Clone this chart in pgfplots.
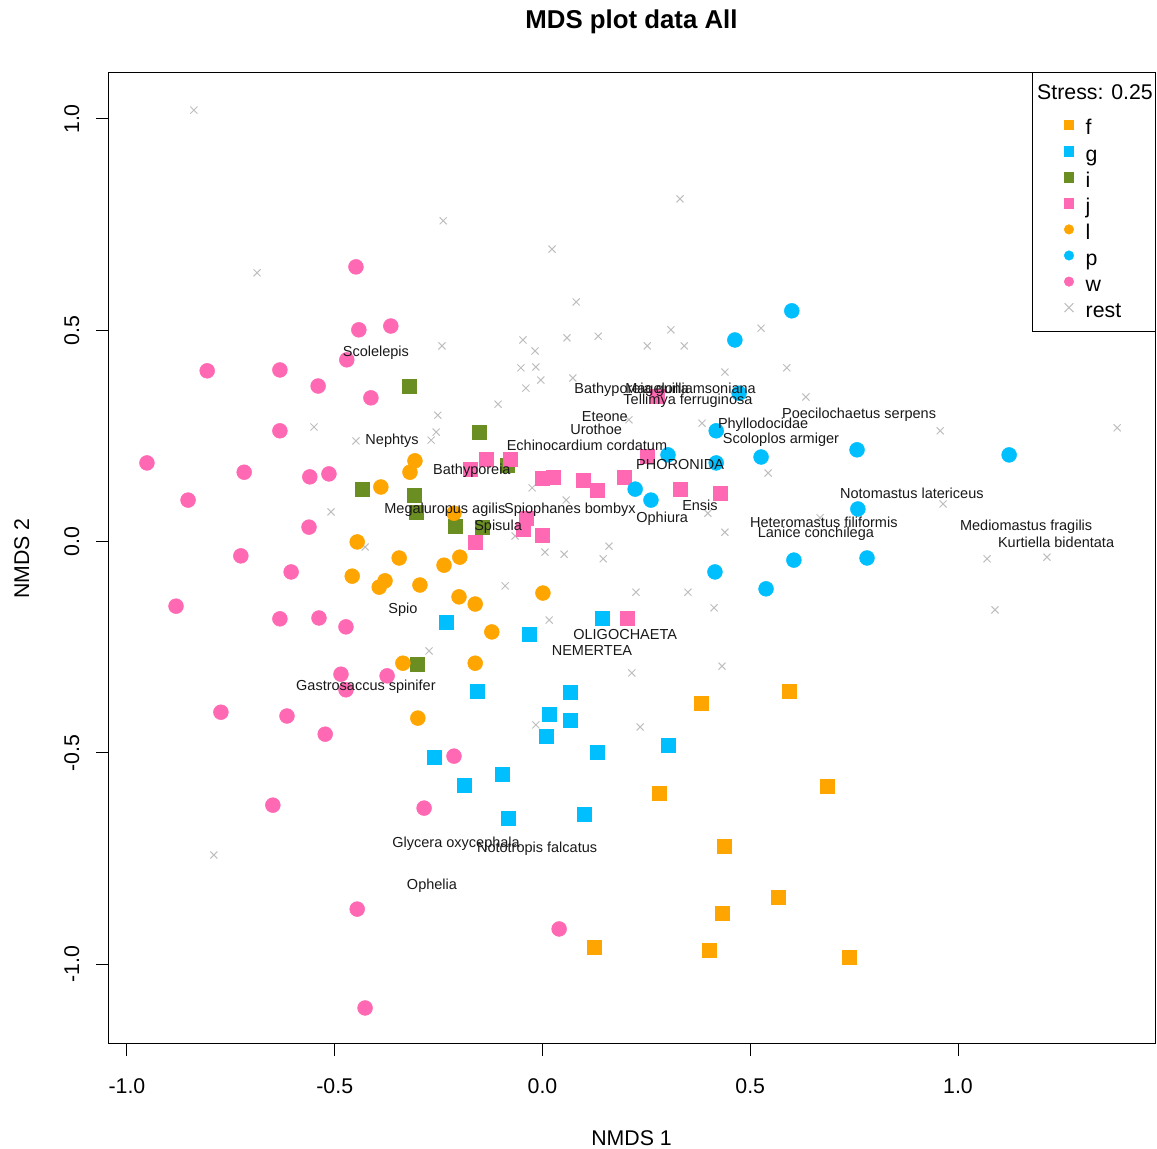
\documentclass[border=0pt]{standalone}
\usepackage{fontspec}
\setmainfont{Liberation Sans}
\usepackage{pgfplots}
\pgfplotsset{compat=1.18}

\definecolor{cF}{HTML}{FFA500}
\definecolor{cG}{HTML}{00BFFF}
\definecolor{cI}{HTML}{6B8E23}
\definecolor{cJ}{HTML}{FF69B4}
\definecolor{cRest}{HTML}{BEBEBE}

\newcommand\lblfont{\fontsize{14.5bp}{17bp}\selectfont}
\newcommand\axfont{\fontsize{21.3bp}{25bp}\selectfont}

\pgfplotsset{
  legimg/.style={legend image code/.code={\draw[##1] plot coordinates {(0bp,5bp)};}},
  sq/.style={only marks, forget plot, color=#1, mark=square*, mark size=7.05bp, mark options={solid, draw=#1, fill=#1, line width=0.5bp}},
  ci/.style={only marks, forget plot, color=#1, mark=*, mark size=7.45bp, mark options={solid, draw=#1, fill=#1, line width=0.5bp}},
  lsq/.style={only marks, color=#1, mark=square*, mark size=4.75bp, mark options={solid, draw=#1, fill=#1, line width=0.5bp}, legimg},
  lci/.style={only marks, color=#1, mark=*, mark size=4.75bp, mark options={solid, draw=#1, fill=#1, line width=0.5bp}, legimg},
}

\begin{document}
\begin{tikzpicture}
\path[use as bounding box] (0,0) rectangle (1157bp,1149bp);
\begin{axis}[
  at={(108bp,105bp)}, anchor=south west,
  scale only axis, width=1047bp, height=971bp,
  xmin=-1.0457, xmax=1.4741, ymin=-1.1893, ymax=1.1089,
  clip=false,
  axis line style={line width=1bp, black},
  xtick={-1,-0.5,0,0.5,1}, ytick={-1,-0.5,0,0.5,1},
  xticklabels={-1.0,-0.5,0.0,0.5,1.0},
  yticklabels={-1.0,-0.5,0.0,0.5,1.0},
  tick align=outside, xtick pos=left, ytick pos=left,
  major tick length=12bp,
  tick style={line width=1bp, black},
  ticklabel style={font=\axfont},
  xticklabel style={anchor=north, inner sep=0pt},
  yticklabel style={rotate=90, anchor=south, inner sep=0pt},
  xticklabel shift=22.5bp, yticklabel shift=16.5bp,
  legend cell align=left,
  legend style={at={(0.9133,0.9516)}, anchor=north west, draw=none, fill=none,
    inner sep=0pt, outer sep=0pt, row sep=6.1bp, column sep=12bp,
    font=\axfont, nodes={inner sep=0pt, text height=15bp, text depth=5bp}},
]
% species not in a group
\addplot[only marks, forget plot, mark=x, mark size=5bp, mark options={draw=cRest, line width=1bp}]
coordinates {
(-0.839,1.021) (-0.239,0.759) (-0.687,0.636) (-0.242,0.463) (0.023,0.692)
(0.331,0.811) (0.081,0.567) (-0.047,0.477) (-0.018,0.451) (0.059,0.482)
(0.134,0.486) (0.252,0.463) (0.309,0.501) (0.341,0.463) (0.526,0.505)
(-0.052,0.411) (-0.016,0.413) (-0.004,0.382) (-0.040,0.363) (0.073,0.387)
(0.439,0.401) (0.588,0.411) (-0.107,0.325) (0.634,0.342) (-0.252,0.299)
(-0.256,0.259) (-0.268,0.240) (-0.550,0.271) (-0.449,0.238) (-0.509,0.070)
(-0.427,-0.013) (-0.273,-0.259) (0.208,0.288) (0.384,0.280) (0.543,0.162)
(-0.025,0.127) (0.057,0.098) (0.398,0.067) (0.439,0.022) (-0.066,0.013)
(0.006,-0.025) (0.052,-0.030) (0.160,-0.011) (0.146,-0.041) (-0.090,-0.105)
(0.225,-0.120) (0.350,-0.120) (0.413,-0.157) (0.016,-0.186) (0.215,-0.311)
(0.432,-0.295) (0.957,0.262) (1.383,0.269) (0.964,0.089) (1.070,-0.041)
(1.214,-0.037) (1.089,-0.162) (0.668,0.056) (-0.791,-0.742) (-0.016,-0.434)
(0.235,-0.439)
};
% f
\addplot[sq=cF] coordinates {
(0.593,-0.354) (0.381,-0.382) (0.685,-0.579) (0.280,-0.595) (0.437,-0.721)
(0.432,-0.879) (0.567,-0.841) (0.124,-0.960) (0.401,-0.967) (0.738,-0.983)
};
% g
\addplot[sq=cG] coordinates {
(0.143,-0.181) (-0.232,-0.191) (-0.032,-0.219) (-0.158,-0.354) (0.066,-0.356)
(0.016,-0.408) (0.066,-0.422) (0.008,-0.460) (0.131,-0.498) (0.302,-0.482)
(-0.261,-0.510) (-0.189,-0.576) (-0.097,-0.550) (-0.083,-0.654) (0.100,-0.645)
};
% i
\addplot[sq=cI] coordinates {
(-0.321,0.368) (-0.153,0.259) (-0.434,0.124) (-0.309,0.110) (-0.304,0.070)
(-0.211,0.037) (-0.146,0.034) (-0.085,0.181) (-0.302,-0.290)
};
% j
\addplot[sq=cJ] coordinates {
(-0.174,0.172) (-0.136,0.195) (-0.078,0.195) (-0.001,0.150) (0.025,0.153)
(0.097,0.146) (0.131,0.122) (0.196,0.153) (0.252,0.202) (0.331,0.124)
(0.427,0.115) (-0.040,0.056) (-0.047,0.030) (-0.001,0.015) (-0.162,-0.001)
(0.203,-0.181) (0.276,0.344)
};
% l
\addplot[ci=cF] coordinates {
(-0.307,0.191) (-0.319,0.164) (-0.389,0.129) (-0.213,0.067) (-0.446,-0.001)
(-0.345,-0.039) (-0.199,-0.037) (-0.237,-0.056) (-0.458,-0.082) (-0.379,-0.093)
(-0.393,-0.108) (-0.295,-0.103) (-0.201,-0.131) (-0.336,-0.288) (0.001,-0.122)
(-0.162,-0.148) (-0.122,-0.214) (-0.162,-0.288) (-0.300,-0.418)
};
% p
\addplot[ci=cG] coordinates {
(0.600,0.546) (0.463,0.477) (0.473,0.351) (0.418,0.262) (0.526,0.200)
(0.302,0.205) (0.418,0.186) (0.223,0.124) (0.261,0.098) (0.605,-0.044)
(0.415,-0.072) (0.538,-0.112) (0.757,0.217) (1.123,0.205) (0.759,0.077)
(0.781,-0.039)
};
% w
\addplot[ci=cJ] coordinates {
(-0.449,0.650) (-0.442,0.501) (-0.365,0.510) (-0.471,0.430) (-0.807,0.404)
(-0.632,0.406) (-0.540,0.368) (-0.413,0.340) (-0.632,0.262) (-0.952,0.186)
(-0.718,0.164) (-0.560,0.153) (-0.514,0.160) (-0.853,0.098) (-0.562,0.034)
(-0.726,-0.034) (-0.605,-0.072) (-0.882,-0.153) (-0.632,-0.183) (-0.538,-0.181)
(-0.473,-0.202) (-0.485,-0.314) (-0.374,-0.318) (-0.473,-0.351) (-0.774,-0.404)
(-0.615,-0.413) (-0.523,-0.456) (-0.213,-0.508) (-0.649,-0.624) (-0.285,-0.631)
(-0.446,-0.870) (-0.427,-1.104) (0.040,-0.917)
};

% legend entries
\addlegendimage{lsq=cF}\addlegendentry{f}
\addlegendimage{lsq=cG}\addlegendentry{g}
\addlegendimage{lsq=cI}\addlegendentry{i}
\addlegendimage{lsq=cJ}\addlegendentry{j}
\addlegendimage{lci=cF}\addlegendentry{l}
\addlegendimage{lci=cG}\addlegendentry{p}
\addlegendimage{lci=cJ}\addlegendentry{w}
\addlegendimage{only marks, mark=x, mark size=6.3bp, mark options={draw=cRest, line width=1bp}, legimg}\addlegendentry{rest}
\end{axis}

% species names, in NMDS units, drawn on top of the points
\begin{scope}[shift={(542.5bp,607.5bp)}, x=415.5bp, y=422.5bp,
  every node/.style={font=\lblfont, inner sep=0pt, text=black!90}]
\node at (-0.401,0.446) {Scolelepis};
\node at (-0.362,0.238) {Nephtys};
\node at (-0.170,0.167) {Bathyporeia};
\node at (-0.235,0.075) {Megaluropus agilis};
\node at (0.066,0.075) {Spiophanes bombyx};
\node at (-0.107,0.034) {Spisula};
\node at (-0.336,-0.162) {Spio};
\node at (-0.425,-0.344) {Gastrosaccus spinifer};
\node at (-0.208,-0.716) {Glycera oxycephala};
\node at (-0.013,-0.728) {Nototropis falcatus};
\node at (-0.266,-0.815) {Ophelia};
\node at (0.199,-0.219) {OLIGOCHAETA};
\node at (0.119,-0.259) {NEMERTEA};
\node at (0.295,0.359) {Bathyporeia guilliamsoniana};
\node at (0.276,0.359) {Magelona};
\node at (0.350,0.333) {Tellimya ferruginosa};
\node at (0.150,0.295) {Eteone};
\node at (0.129,0.266) {Urothoe};
\node at (0.107,0.228) {Echinocardium cordatum};
\node at (0.331,0.183) {PHORONIDA};
\node at (0.531,0.276) {Phyllodocidae};
\node at (0.574,0.240) {Scoloplos armiger};
\node at (0.762,0.299) {Poecilochaetus serpens};
\node at (0.379,0.086) {Ensis};
\node at (0.288,0.053) {Ophiura};
\node at (0.889,0.115) {Notomastus latericeus};
\node at (0.677,0.046) {Heteromastus filiformis};
\node at (0.658,0.018) {Lanice conchilega};
\node at (1.164,0.034) {Mediomastus fragilis};
\node at (1.236,-0.001) {Kurtiella bidentata};
\end{scope}

% legend frame and title
\draw[line width=1bp] (1032bp,817bp) rectangle (1155bp,1076bp);
\node[anchor=base west, inner sep=0pt, font=\axfont] at (1037bp,1049bp) {Stress: 0.25};

% titles
\node[anchor=base, inner sep=0pt, font=\bfseries\fontsize{25.8bp}{30bp}\selectfont] at (631.5bp,1120bp) {MDS plot data All};
\node[anchor=base, inner sep=0pt, font=\axfont] at (631.5bp,3.5bp) {NMDS 1};
\node[anchor=base, inner sep=0pt, rotate=90, font=\axfont] at (29bp,590.3bp) {NMDS 2};
\end{tikzpicture}
\end{document}
